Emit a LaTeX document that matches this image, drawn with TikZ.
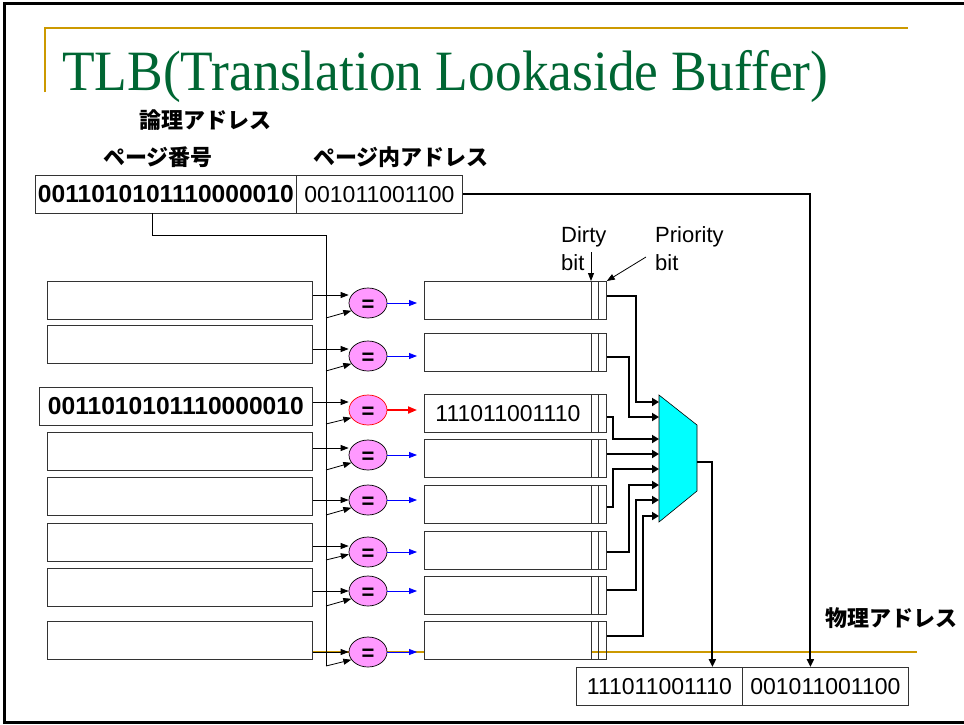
\documentclass[tikz,border=0pt]{standalone}
\usepackage{graphicx}
\usepackage{fontspec}
\setmainfont{Liberation Sans}
\newfontfamily\titlefont{Liberation Serif}
\newfontfamily\jpfont{Noto Sans CJK JP}
\usetikzlibrary{arrows.meta,shapes.geometric,calc}
\definecolor{titlegreen}{RGB}{0,102,51}
\definecolor{goldline}{RGB}{204,153,0}
\definecolor{eqpink}{RGB}{255,153,255}
\definecolor{muxcyan}{RGB}{0,255,255}
\newcommand\bigdig{\bfseries\fontsize{24.6}{28}\selectfont}
\newcommand\regdig{\fontsize{23}{27}\selectfont}
\begin{document}
\begin{tikzpicture}[x=1pt,y=-1pt,
  box/.style={draw=black!80, line width=0.8pt, inner sep=0pt, anchor=north west, minimum height=37.5pt},
  wbox/.style={box, fill=white},
  eq/.style={ellipse, draw=black, fill=eqpink, line width=0.7pt, minimum width=38pt, minimum height=30pt, inner sep=0pt},
  eqtxt/.style={inner sep=0pt, font=\bfseries\fontsize{22}{22}\selectfont},
  jlbl/.style={font=\jpfont\bfseries\fontsize{22}{24}\selectfont, inner sep=0pt},
  lbl/.style={font=\fontsize{22}{28}\selectfont, align=left, inner sep=0pt, anchor=north west},
  thinarr/.style={draw=black, line width=0.8pt, -{Triangle[length=8pt,width=6pt]}},
  bluearr/.style={draw=blue, line width=0.8pt, -{Triangle[length=8pt,width=6pt]}},
  redarr/.style={draw=red, line width=1.8pt, -{Triangle[length=9pt,width=7pt]}},
  muxin/.style={draw=black, line width=2.8pt, -{Triangle[length=7pt,width=8pt]}},
  outarr/.style={draw=black, line width=2pt, -{Triangle[length=8pt,width=7pt]}}]
\useasboundingbox (0,0) rectangle (964,724);

% slide frame and gold rules
\draw[line width=2.5pt] (964,3.5) -- (4.5,3.5) -- (4.5,722.5) -- (964,722.5);
\draw[goldline, line width=2pt] (45,92) -- (45,28) -- (908,28);
\draw[goldline, line width=2pt] (312,652) -- (917,652);

% title
\node[anchor=base west, inner sep=0pt, text=titlegreen] (title) at (62,90)
  {\resizebox{766pt}{\height}{\titlefont\fontsize{57}{60}\selectfont TLB(Translation Lookaside Buffer)}};

% labels
\node[jlbl] (logical) at (205,120) {論理アドレス};
\node[jlbl] (pagenum) at (158,157) {ページ番号};
\node[jlbl] (pageoff) at (401,157) {ページ内アドレス};
\node[jlbl] (physical) at (891,618) {物理アドレス};

% logical address
\node[box, minimum width=261pt, font=\bigdig] (PN) at (35,175) {0011010101110000010};
\node[box, minimum width=166pt, font=\regdig] (PO) at (296,175) {001011001100};

% TLB tag boxes
\foreach \i/\t in {1/281,2/325,4/432,5/477,6/523,7/568,8/621}
  \node[wbox, minimum width=265pt] (L\i) at (47,\t) {};
\node[wbox, minimum width=273pt, font=\bigdig] (L3) at (39,387) {0011010101110000010};

% comparators
\foreach \i/\y in {1/303,2/356,4/455,5/500,6/552,7/591,8/652}{
  \node[eq] (E\i) at (368,\y) {};
  \node[eqtxt] (T\i) at ([yshift=-3pt]E\i.center) {=};
}
\node[eq, draw=red] (E3) at (368,410) {};
\node[eqtxt] (T3) at ([yshift=-3pt]E3.center) {=};

% TLB data boxes
\foreach \i/\t in {1/281,2/333,3/394,4/439,5/485,6/531,7/576,8/621}{
  \node[wbox, minimum width=167pt] (R\i) at (424,\t) {};
  \node[box, minimum width=7pt] (DB\i) at (591,\t) {};
  \node[box, minimum width=8pt] (PB\i) at (598,\t) {};
}
\node[font=\regdig, inner sep=0pt] (data3) at (R3.center) {111011001110};

% bus from page number
\foreach \i/\b in {1/318,2/371,3/424,4/470,5/515,6/560,7/606,8/666}
  \coordinate (B\i) at (326,\b);
\draw[line width=0.8pt] ([xshift=-13.5pt]PN.south) |- (326,235) -- (B8);

% tag -> comparator arrows
\foreach \i/\ay in {1/295,2/349,3/402,4/448,5/500,6/546,7/591,8/652}{
  \coordinate (A\i) at (0,\ay);
  \draw[thinarr] (L\i.east |- A\i) -- (E\i.west |- A\i);
}
\foreach \i/\ang in {1/205,2/205,3/205,4/205,5/205,6/187,7/205,8/205}
  \draw[thinarr] (B\i) -- (E\i.\ang);

% comparator -> data arrows
\foreach \i in {1,2,4,5,6,7,8}
  \draw[bluearr] (E\i.east) -- ($(R\i.west |- E\i.east)+(-7,0)$);
\draw[redarr] (E3.east) -- ($(R3.west |- E3.east)+(-7,0)$);

% dirty / priority labels
\node[lbl] (dirty) at (561,226) {Dirty\\bit};
\node[lbl] (prio) at (655,226) {Priority\\bit};
\coordinate (dA) at (591,252);
\coordinate (pA) at (646,257);
\draw[thinarr] (dA) -- (DB1.north west);
\draw[thinarr] (pA) -- (PB1.north east);

% multiplexer
\coordinate (M1) at (659,395);
\coordinate (M2) at (697,425);
\coordinate (M3) at (697,491);
\coordinate (M4) at (659,522);
\coordinate (Mout) at (697,462);
\filldraw[fill=muxcyan, draw=black, line width=0.6pt] (M1) -- (M2) -- (M3) -- (M4) -- cycle;
\foreach \k/\my in {1/402,2/417,3/439,4/454,5/469,6/485,7/500,8/516}
  \coordinate (MI\k) at (659,\my);

\foreach \i/\sy/\xt in {1/296/636,2/357/629,3/417/613,5/507/613,6/552/629,7/590/636,8/636/643}{
  \coordinate (S\i) at (0,\sy);
  \draw[muxin] (PB\i.east |- S\i) -| (\xt,0 |- MI\i) -- (MI\i);
}
\draw[muxin] (PB4.east |- MI4) -- (MI4);

% physical address
\node[box, minimum width=166pt, font=\regdig] (PA1) at (576,667) {111011001110};
\node[box, minimum width=166pt, font=\regdig] (PA2) at (742,667) {001011001100};
\draw[outarr] (Mout) -| ($(PA1.north)+(53,0)$);
\draw[outarr] (PO.east) -| ($(PA2.north)+(-15,0)$);
\end{tikzpicture}
\end{document}
